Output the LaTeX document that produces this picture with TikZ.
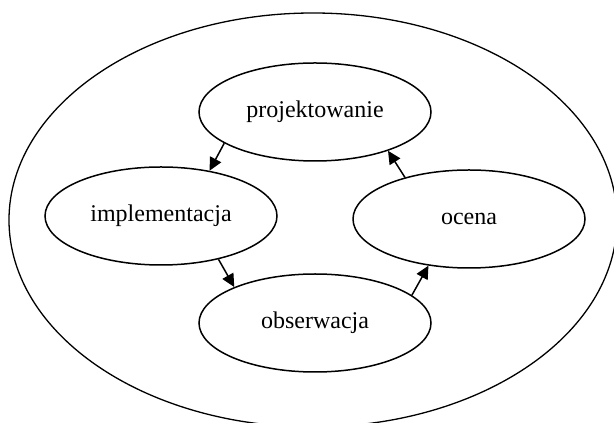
\documentclass[tikz,border=0pt]{standalone}
\usepackage{fontspec}
\setmainfont{Liberation Serif}
\usepackage{tikz}
\usetikzlibrary{calc,arrows.meta,shapes.geometric,positioning}

\begin{document}
\begin{tikzpicture}[x=0.5pt,y=0.5pt,font=\fontsize{12}{14}\selectfont]

\tikzset{stagenode/.style={shape=ellipse,draw=black,line width=0.75pt,inner sep=0pt,minimum width=116pt,minimum height=49pt},
outernode/.style={shape=ellipse,draw=black,line width=0.65pt,inner sep=0pt,minimum width=304pt,minimum height=207pt},
cyclearrow/.style={line width=0.75pt,-{Triangle[length=6.5pt,width=6.2pt]}}}

\useasboundingbox (0,0) rectangle (614,422);

% Outer ellipse
\node[outernode] (outer) at (313,202) {};

% Stages of the cycle
\node[stagenode] (proj) at (315,310) {projektowanie};
\node[stagenode] (impl) at (161,206) {implementacja};
\node[stagenode] (ocena) at (469,203) {ocena};
\node[stagenode] (obs) at (315,99) {obserwacja};

% Cycle edges
\draw[cyclearrow] (proj.199) -- (impl.43);
\draw[cyclearrow] (impl.323) -- (obs.156);
\draw[cyclearrow] (obs.16) -- (ocena.229);
\draw[cyclearrow] (ocena.147) -- (proj.332);

\end{tikzpicture}
\end{document}
